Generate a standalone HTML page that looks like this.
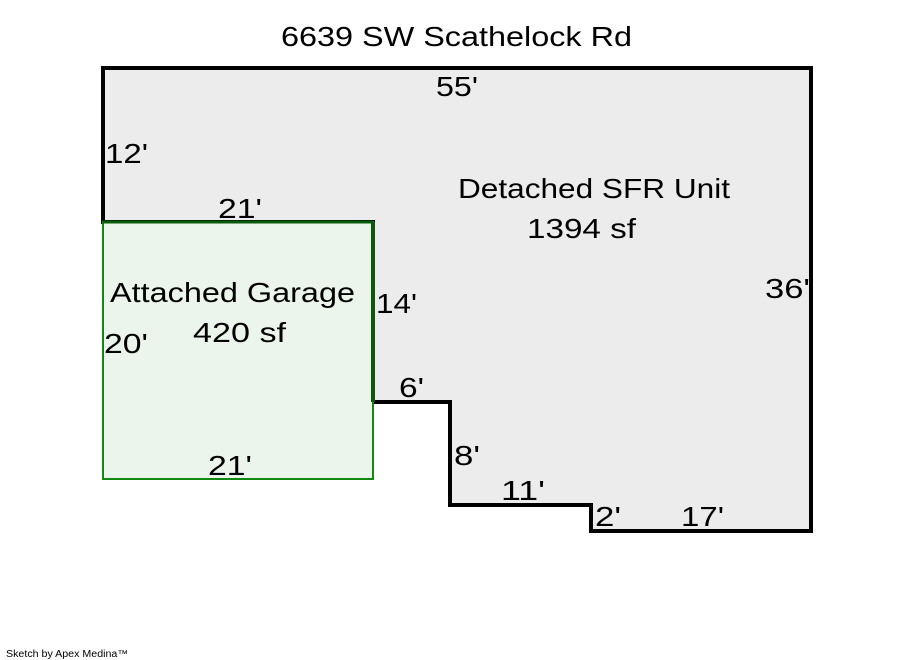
<!DOCTYPE html>
<html><head><meta charset="utf-8"><style>
html,body{margin:0;padding:0;background:#fff;width:900px;height:660px;overflow:hidden}
text{font-family:"Liberation Sans","DejaVu Sans",sans-serif;font-size:28px;fill:#000}
</style></head><body>
<svg width="900" height="660" viewBox="0 0 900 660" xmlns="http://www.w3.org/2000/svg">
<polygon points="103,68 811,68 811,531 591,531 591,505 450,505 450,402 373,402 373,222 103,222" fill="#ececec" stroke="#000" stroke-width="4" stroke-linejoin="miter"/>
<rect x="103" y="222" width="270" height="257" fill="#ecf5ec" stroke="#118811" stroke-width="2"/>
<line x1="373" y1="222" x2="373" y2="402" stroke="#0a5a0a" stroke-width="4"/>
<line x1="103" y1="222" x2="373" y2="222" stroke="#0a5a0a" stroke-width="3"/>
<text x="281" y="46" textLength="351" lengthAdjust="spacingAndGlyphs">6639 SW Scathelock Rd</text>
<text x="436" y="96" textLength="42" lengthAdjust="spacingAndGlyphs">55'</text>
<text x="105" y="163" textLength="43" lengthAdjust="spacingAndGlyphs">12'</text>
<text x="218" y="218" textLength="44" lengthAdjust="spacingAndGlyphs">21'</text>
<text x="458" y="198" textLength="272" lengthAdjust="spacingAndGlyphs">Detached SFR Unit</text>
<text x="527" y="238" textLength="109" lengthAdjust="spacingAndGlyphs">1394 sf</text>
<text x="110" y="302" textLength="245" lengthAdjust="spacingAndGlyphs">Attached Garage</text>
<text x="193" y="342" textLength="93" lengthAdjust="spacingAndGlyphs">420 sf</text>
<text x="104" y="353" textLength="44" lengthAdjust="spacingAndGlyphs">20'</text>
<text x="376" y="313" textLength="41" lengthAdjust="spacingAndGlyphs">14'</text>
<text x="765" y="298" textLength="45" lengthAdjust="spacingAndGlyphs">36'</text>
<text x="399" y="397" textLength="25" lengthAdjust="spacingAndGlyphs">6'</text>
<text x="454" y="465" textLength="26" lengthAdjust="spacingAndGlyphs">8'</text>
<text x="501" y="500" textLength="44" lengthAdjust="spacingAndGlyphs">11'</text>
<text x="595" y="526" textLength="26" lengthAdjust="spacingAndGlyphs">2'</text>
<text x="681" y="526" textLength="43" lengthAdjust="spacingAndGlyphs">17'</text>
<text x="208" y="475" textLength="44" lengthAdjust="spacingAndGlyphs">21'</text>
<text x="6" y="657" style="font-family:'Liberation Sans',sans-serif;font-size:10px" textLength="122" lengthAdjust="spacingAndGlyphs">Sketch by Apex Medina™</text>
</svg>
</body></html>
